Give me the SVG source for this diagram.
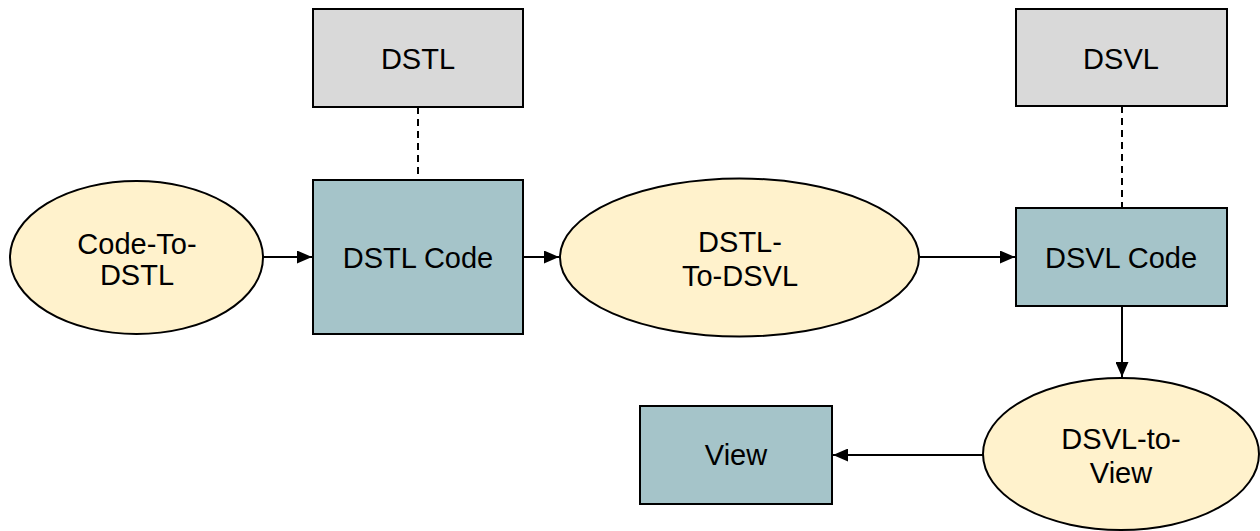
<svg xmlns="http://www.w3.org/2000/svg" width="1260" height="531" viewBox="0 0 1260 531">
  <style>
    .proc { fill: #fff2cc; stroke: #000; stroke-width: 2; }
    .data { fill: #a5c4c9; stroke: #000; stroke-width: 2; }
    .lang { fill: #d9d9d9; stroke: #000; stroke-width: 2; }
    .lbl { font-family: "Liberation Sans", Arial, sans-serif; font-size: 29px; fill: #000; text-anchor: middle; }
    .flow { stroke: #000; stroke-width: 2; fill: none; marker-end: url(#arrow); }
    .dash { stroke: #000; stroke-width: 2; fill: none; stroke-dasharray: 7 5; }
  </style>
  <defs>
    <marker id="arrow" viewBox="0 0 15 13" refX="15" refY="6.5" markerWidth="15" markerHeight="13" markerUnits="userSpaceOnUse" orient="auto">
      <path d="M0,0 L15,6.5 L0,13 Z" fill="#000"/>
    </marker>
  </defs>
  <rect width="1260" height="531" fill="#fff"/>

  <g id="connectors">
    <line class="flow" x1="263" y1="257" x2="312" y2="257"/>
    <line class="flow" x1="523" y1="257" x2="559" y2="257"/>
    <line class="flow" x1="919" y1="257" x2="1015" y2="257"/>
    <line class="flow" x1="1122" y1="306" x2="1122" y2="377"/>
    <line class="flow" x1="983" y1="455" x2="833" y2="455"/>
    <line class="dash" x1="418" y1="107" x2="418" y2="180"/>
    <line class="dash" x1="1122" y1="106" x2="1122" y2="208"/>
  </g>

  <g id="code-to-dstl">
    <ellipse class="proc" cx="136.5" cy="257.5" rx="126.5" ry="76.5"/>
    <text class="lbl" x="137" y="254">Code-To-</text>
    <text class="lbl" x="137" y="285">DSTL</text>
  </g>

  <g id="dstl">
    <rect class="lang" x="313" y="9" width="210" height="98"/>
    <text class="lbl" x="418" y="69">DSTL</text>
  </g>

  <g id="dstl-code">
    <rect class="data" x="313" y="180" width="210" height="154"/>
    <text class="lbl" x="418" y="268">DSTL Code</text>
  </g>

  <g id="dstl-to-dsvl">
    <ellipse class="proc" cx="739.5" cy="257.5" rx="179.5" ry="79"/>
    <text class="lbl" x="740" y="252">DSTL-</text>
    <text class="lbl" x="740" y="286">To-DSVL</text>
  </g>

  <g id="dsvl">
    <rect class="lang" x="1016" y="9" width="211" height="97"/>
    <text class="lbl" x="1121" y="69">DSVL</text>
  </g>

  <g id="dsvl-code">
    <rect class="data" x="1016" y="208" width="211" height="98"/>
    <text class="lbl" x="1121" y="268">DSVL Code</text>
  </g>

  <g id="dsvl-to-view">
    <ellipse class="proc" cx="1121" cy="454" rx="138" ry="76"/>
    <text class="lbl" x="1121" y="449">DSVL-to-</text>
    <text class="lbl" x="1121" y="483">View</text>
  </g>

  <g id="view">
    <rect class="data" x="640" y="406" width="192" height="98"/>
    <text class="lbl" x="736" y="465">View</text>
  </g>
</svg>
